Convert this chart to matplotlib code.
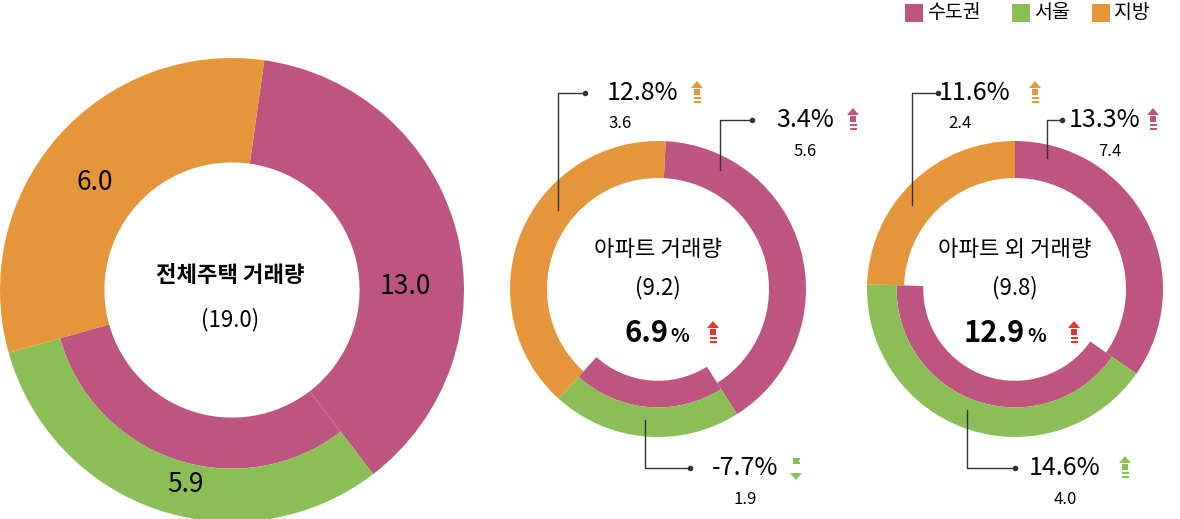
import matplotlib
matplotlib.use("Agg")
import matplotlib.pyplot as plt
from matplotlib.patches import Wedge, Polygon, Rectangle, Circle

plt.rcParams['font.family'] = ['Noto Sans CJK KR', 'DejaVu Sans']

PINK, GREEN, ORANGE, RED = '#BE5580', '#8BBF56', '#E5963A', '#E8342A'

legend_labels = ['수도권', '서울', '지방']
titles = ['전체주택 거래량', '아파트 거래량', '아파트 외 거래량']
totals = [19.0, 9.2, 9.8]
metro = [13.0, 5.6, 7.4]
seoul = [5.9, 1.9, 4.0]
region = [6.0, 3.6, 2.4]
total_growth = [None, 6.9, 12.9]
metro_growth = [None, 3.4, 13.3]
seoul_growth = [None, -7.7, 14.6]
region_growth = [None, 12.8, 11.6]

H = 519
fig = plt.figure(figsize=(11.8, 5.19), dpi=100)
ax = fig.add_axes([0, 0, 1, 1])
ax.set_xlim(0, 1180); ax.set_ylim(0, H); ax.set_aspect('equal'); ax.axis('off')

def Y(y): return H - y

def wedge(cx, cy, r0, r1, b0, b1, c):
    ax.add_patch(Wedge((cx, Y(cy)), r1, 90 - b1, 90 - b0, width=r1 - r0, color=c, lw=0))

def arrow(x, y, c, up=True, s=1.0):
    # x,y = center in ref px
    w, hh = 6*s, 7*s
    yt = y - 12*s if up else y + 12*s
    d = 1 if up else -1
    head = [(x - w, Y(yt + d*hh)), (x + w, Y(yt + d*hh)), (x, Y(yt))]
    ax.add_patch(Polygon(head, color=c, lw=0))
    ax.add_patch(Rectangle((x - 3*s, Y(y + 2*s) if up else Y(y - 4*s)), 6*s, 6*s, color=c, lw=0))
    for k, off in enumerate([5, 9]):
        yy = y + d*off*s
        ax.add_patch(Rectangle((x - 3.5*s, Y(yy) - 1*s), 7*s, 2*s, color=c, lw=0))

def fmt(v):
    return f"{v:.1f}%"

geo = [(232, 290, 232, 0.55, 0.77, 8), (658, 289, 148, 0.75, 0.62, 3), (1015, 289, 148, 0.75, 0.62, 0)]
for i in range(3):
    cx, cy, R, fin, fsplit, start = geo[i]
    T = totals[i]
    bm = start + metro[i] / T * 360
    bs = bm - seoul[i] / T * 360
    wedge(cx, cy, R*fin if i == 0 else R*fin, R, start, bs, PINK)
    if i == 0:
        wedge(cx, cy, R*fin, R*fsplit, bs, bm, PINK)
        wedge(cx, cy, R*fsplit, R, bs, bm, GREEN)
    else:
        wedge(cx, cy, R*fsplit, R*0.8, bs, bm, PINK)
        wedge(cx, cy, R*0.8, R, bs, bm, GREEN)
    wedge(cx, cy, R*fin, R, bm, start + 360, ORANGE)

# big donut labels
ax.text(95, Y(183), f"{region[0]:.1f}", fontsize=19, ha='center', va='center')
ax.text(405, Y(287), f"{metro[0]:.1f}", fontsize=19, ha='center', va='center')
ax.text(185, Y(485), f"{seoul[0]:.1f}", fontsize=19, ha='center', va='center')
ax.text(230, Y(275), titles[0], fontsize=16, fontweight='bold', ha='center', va='center')
ax.text(230, Y(320), f"({totals[0]:.1f})", fontsize=16, ha='center', va='center')

def line(pts):
    ax.plot([p[0] for p in pts], [Y(p[1]) for p in pts], color='#333333', lw=1)
    ax.plot([pts[0][0]], [Y(pts[0][1])], 'o', color='#333333', ms=3)

ann = [
    # donut 2
    dict(cx=658, reg=(643, 93, 697, 620, [(585, 93), (558, 93), (558, 210)]),
         met=(805, 120, 853, 805, [(752, 120), (720, 120), (720, 170)]),
         seo=(745, 468, 796, 745, [(690, 468), (645, 468), (645, 420)])),
    dict(cx=1015, reg=(975, 93, 1035, 960, [(938, 93), (912, 93), (912, 205)]),
         met=(1105, 120, 1153, 1110, [(1062, 120), (1047, 120), (1047, 158)]),
         seo=(1065, 468, 1125, 1065, [(1015, 468), (967, 468), (967, 410)])),
]
for j, a in enumerate(ann):
    i = j + 1
    for key, g, v, c in [('reg', region_growth[i], region[i], ORANGE),
                         ('met', metro_growth[i], metro[i], PINK),
                         ('seo', seoul_growth[i], seoul[i], GREEN)]:
        tx, ty, axx, vx, pts = a[key]
        ax.text(tx, Y(ty), fmt(g), fontsize=18, ha='center', va='center')
        arrow(axx, ty, c, up=g >= 0, s=1.0)
        ax.text(vx, Y(ty + 31), f"{v:.1f}", fontsize=12, ha='center', va='center')
        line(pts)
    cx = a['cx']
    ax.text(cx, Y(250), titles[i], fontsize=16, ha='center', va='center')
    ax.text(cx, Y(288), f"({totals[i]:.1f})", fontsize=16, ha='center', va='center')
    ax.text(cx + 10, Y(333), f"{total_growth[i]:.1f}", fontsize=21, fontweight='bold', ha='right', va='center')
    ax.text(cx + 12, Y(336), "%", fontsize=14, fontweight='bold', ha='left', va='center')
    arrow(cx + 55 + (4 if i == 2 else 0), 333, RED, up=True)

# legend
for k, (lab, c, x) in enumerate(zip(legend_labels, [PINK, GREEN, ORANGE], [905, 1012, 1092])):
    ax.add_patch(Rectangle((x, Y(22)), 18, 18, color=c, lw=0))
    ax.text(x + 22, Y(12), lab, fontsize=14, ha='left', va='center')

fig.savefig('out.png', dpi=100)
